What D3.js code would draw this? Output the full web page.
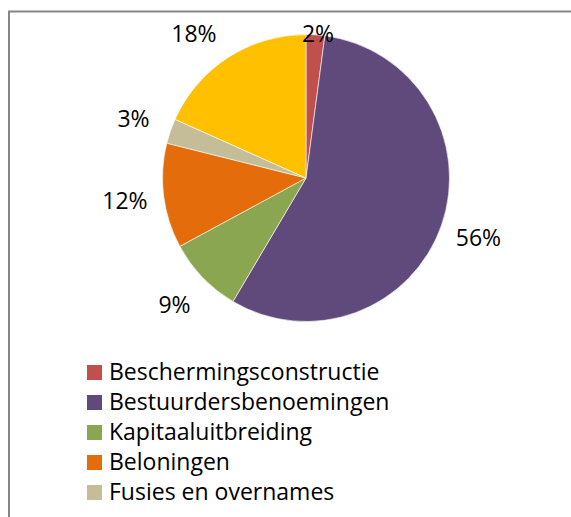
<!DOCTYPE html>
<html>
<head>
<meta charset="utf-8">
<script src="https://cdn.jsdelivr.net/npm/d3@7"></script>
<style>
  body { margin: 0; background: #fff; }
  text { font-family: "Open Sans", sans-serif; fill: #000; }
</style>
</head>
<body>
<script>
// chart data
var categories = ["Beschermingsconstructie", "Bestuurdersbenoemingen", "Kapitaaluitbreiding",
                  "Beloningen", "Fusies en overnames", "Overige"];
var values = [2.1, 56.4, 8.6, 11.8, 2.8, 18.3];
var colors = ["#C0504D", "#604A7B", "#8BA650", "#E46C0A", "#C4BD97", "#FFC000"];

var svgWidth = 571;
var svgHeight = 517;

var cx = 306, cy = 178, radius = 143.5;
var labelRadius = 182.5;
var labelTop = 34; // labels can not go higher than this
var fontSize = "23px";
var legendTop = 365, legendStep = 30;

var svg = d3.select("body")
  .append("svg")
  .attr("width", svgWidth)
  .attr("height", svgHeight);

// chart frame (right and bottom edge fall outside the picture)
svg.append("path")
  .attr("d", "M9,517 V11.5 H571")
  .attr("fill", "none")
  .attr("stroke", "#868686")
  .attr("stroke-width", 2);

var data = categories.map(function(c, i) {
  return { name: c, value: values[i], color: colors[i] };
});

var pie = d3.pie()
  .sort(null)
  .value(function(d) { return d.value; });

var arc = d3.arc()
  .innerRadius(0)
  .outerRadius(radius);

var arcs = pie(data);
var total = d3.sum(values);

var pieGroup = svg.append("g")
  .attr("transform", `translate(${cx}, ${cy})`);

pieGroup.selectAll("path")
  .data(arcs)
  .enter()
  .append("path")
  .attr("d", arc)
  .attr("fill", function(d) { return d.data.color; })
  .attr("stroke", "#fff")
  .attr("stroke-width", 0.6);

// label position: outside the slice, pushed down when it would leave the plot area
function labelPos(d) {
  var a = (d.startAngle + d.endAngle) / 2;
  var x = labelRadius * Math.sin(a);
  var y = -labelRadius * Math.cos(a);
  var top = labelTop - cy;
  if (y < top) {
    y = top;
    var slide = Math.sign(x) * Math.sqrt(labelRadius * labelRadius - y * y);
    var a2 = Math.atan2(slide, -y);
    if (a2 < 0) a2 += 2 * Math.PI;
    if (a2 >= d.startAngle && a2 <= d.endAngle) x = slide;
  }
  return [x, y];
}

pieGroup.selectAll("text")
  .data(arcs)
  .enter()
  .append("text")
  .attr("x", function(d) { return labelPos(d)[0]; })
  .attr("y", function(d) { return labelPos(d)[1]; })
  .attr("text-anchor", "middle")
  .attr("dy", "0.36em")
  .style("font-size", fontSize)
  .text(function(d) { return Math.round(d.data.value / total * 100) + "%"; });

// legend: only the rows that still fit in the picture
var legendData = data.filter(function(d, i) {
  return legendTop + i * legendStep + 23 <= svgHeight;
});

var legend = svg.append("g")
  .attr("transform", `translate(87, ${legendTop})`);

var items = legend.selectAll("g")
  .data(legendData)
  .enter()
  .append("g")
  .attr("transform", function(d, i) { return `translate(0, ${i * legendStep})`; });

items.append("rect")
  .attr("width", 15)
  .attr("height", 15)
  .attr("fill", function(d) { return d.color; });

items.append("text")
  .attr("x", 22)
  .attr("y", 15)
  .style("font-size", fontSize)
  .text(function(d) { return d.name; });
</script>
</body>
</html>
